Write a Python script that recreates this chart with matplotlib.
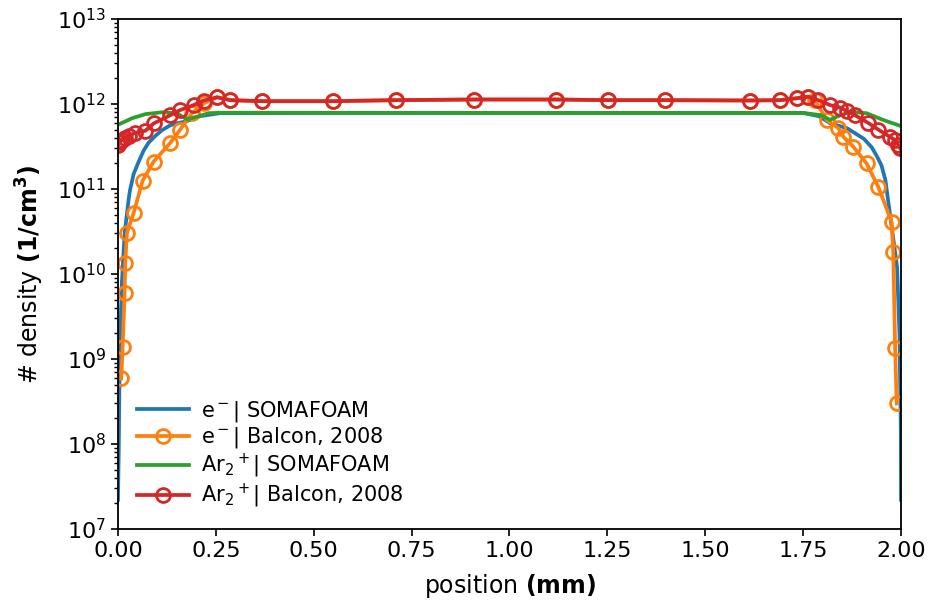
import numpy as np
import matplotlib
matplotlib.use('Agg')
import matplotlib.pyplot as plt

# e- | SOMAFOAM
x_e_sim = [0.0, 0.002, 0.0033, 0.006, 0.010, 0.017, 0.027, 0.031, 0.040, 0.053, 0.065, 0.078,
           0.095, 0.112, 0.13, 0.146, 0.172, 0.21, 0.26, 0.5, 1.0, 1.5, 1.75, 1.79, 1.82,
           1.862, 1.905, 1.925, 1.939, 1.95, 1.960, 1.973, 1.990, 1.996, 1.9995, 2.0]
n_e_sim = [2.2e7, 8.5e7, 3.5e8, 2.0e9, 7.8e9, 3.0e10, 7.4e10, 9.8e10, 1.5e11, 2.1e11, 2.8e11, 3.5e11,
           4.2e11, 4.9e11, 5.5e11, 5.9e11, 6.2e11, 7.2e11, 7.8e11, 7.85e11, 7.85e11, 7.85e11, 7.85e11, 7.2e11, 5.9e11,
           5.2e11, 3.9e11, 3.1e11, 2.4e11, 1.9e11, 1.28e11, 4.6e10, 1.2e10, 2.0e9, 1.5e8, 2.2e7]

# e- | Balcon, 2008
x_e_ref = [0.0084, 0.012, 0.017, 0.0186, 0.023, 0.040, 0.063, 0.091, 0.134, 0.159,
           0.189, 0.221, 0.253, 0.287, 0.368, 0.548, 0.709, 0.909, 1.119, 1.252,
           1.397, 1.614, 1.691, 1.734, 1.763, 1.780, 1.810, 1.840, 1.853, 1.878,
           1.912, 1.942, 1.976, 1.980, 1.985, 1.989]
n_e_ref = [5.9e8, 1.4e9, 6.0e9, 1.34e10, 3.06e10, 5.2e10, 1.25e11, 2.1e11, 3.5e11, 5.0e11,
           7.8e11, 1.03e12, 1.2e12, 1.11e12, 1.08e12, 1.08e12, 1.11e12, 1.13e12, 1.13e12, 1.11e12,
           1.11e12, 1.10e12, 1.11e12, 1.17e12, 1.2e12, 1.11e12, 6.5e11, 5.2e11, 4.1e11, 3.15e11,
           2.0e11, 1.06e11, 4.1e10, 1.83e10, 1.34e9, 3.0e8]

# Ar2+ | SOMAFOAM
x_ar_sim = [0.0, 0.036, 0.070, 0.112, 0.150, 0.176, 0.202, 0.232, 0.265, 1.0,
            1.75, 1.795, 1.819, 1.836, 1.870, 1.912, 1.954, 2.0]
n_ar_sim = [5.7e11, 6.8e11, 7.6e11, 8.0e11, 7.8e11, 6.6e11, 7.1e11, 7.8e11, 7.9e11, 7.85e11,
            7.85e11, 7.4e11, 6.5e11, 7.1e11, 8.1e11, 7.8e11, 6.5e11, 5.5e11]

# Ar2+ | Balcon, 2008
x_ar_ref = [0.0, 0.005, 0.010, 0.018, 0.028, 0.043, 0.070, 0.091, 0.134, 0.159,
            0.193, 0.219, 0.253, 0.287, 0.368, 0.548, 0.709, 0.909, 1.119, 1.252,
            1.397, 1.614, 1.691, 1.734, 1.763, 1.789, 1.819, 1.844, 1.861, 1.882,
            1.916, 1.942, 1.972, 1.985, 1.993, 1.998]
n_ar_ref = [3.3e11, 3.57e11, 3.77e11, 3.98e11, 4.2e11, 4.57e11, 4.85e11, 5.9e11, 7.4e11, 8.5e11,
            9.7e11, 1.1e12, 1.2e12, 1.11e12, 1.08e12, 1.08e12, 1.11e12, 1.13e12, 1.13e12, 1.11e12,
            1.11e12, 1.10e12, 1.11e12, 1.17e12, 1.22e12, 1.11e12, 9.7e11, 9.1e11, 8.3e11, 7.4e11,
            6.0e11, 5.0e11, 4.1e11, 3.77e11, 3.3e11, 3.0e11]

x_ticks = [0.0, 0.25, 0.5, 0.75, 1.0, 1.25, 1.5, 1.75, 2.0]

fig = plt.figure(figsize=(9.31, 6.06), dpi=100)
ax = fig.add_axes([0.1267, 0.1271, 0.8411, 0.8415])

mk = dict(marker='o', markersize=10, markerfacecolor='none', markeredgewidth=2)
ax.plot(x_e_sim, n_e_sim, color='#1f77b4', lw=2.7, label='e$^-$| SOMAFOAM')
ax.plot(x_e_ref, n_e_ref, color='#ff7f0e', lw=2.7, label='e$^-$| Balcon, 2008', **mk)
ax.plot(x_ar_sim, n_ar_sim, color='#2ca02c', lw=2.7, label='Ar$_2$$^+$| SOMAFOAM')
ax.plot(x_ar_ref, n_ar_ref, color='#d62728', lw=2.7, label='Ar$_2$$^+$| Balcon, 2008', **mk)

ax.set_yscale('log')
ax.set_ylim(1e7, 1e13)
ax.set_xlim(0, 2)
ax.set_xticks(x_ticks)
ax.set_xticklabels(['%.2f' % t for t in x_ticks])
ax.tick_params(axis='both', which='major', labelsize=16, length=5, width=1.2)
ax.tick_params(axis='y', which='minor', length=3, width=1.0)
for s in ax.spines.values():
    s.set_linewidth(1.3)

ax.set_xlabel('position $\\mathbf{(mm)}$', fontsize=17, labelpad=8)
ax.set_ylabel('# density $\\mathbf{(1/cm^3)}$', fontsize=17, labelpad=8)

ax.legend(loc='lower left', frameon=False, fontsize=15, handlelength=2.5,
          borderaxespad=0.5, labelspacing=0.08, handletextpad=0.6)

plt.savefig('out.png', dpi=100)
